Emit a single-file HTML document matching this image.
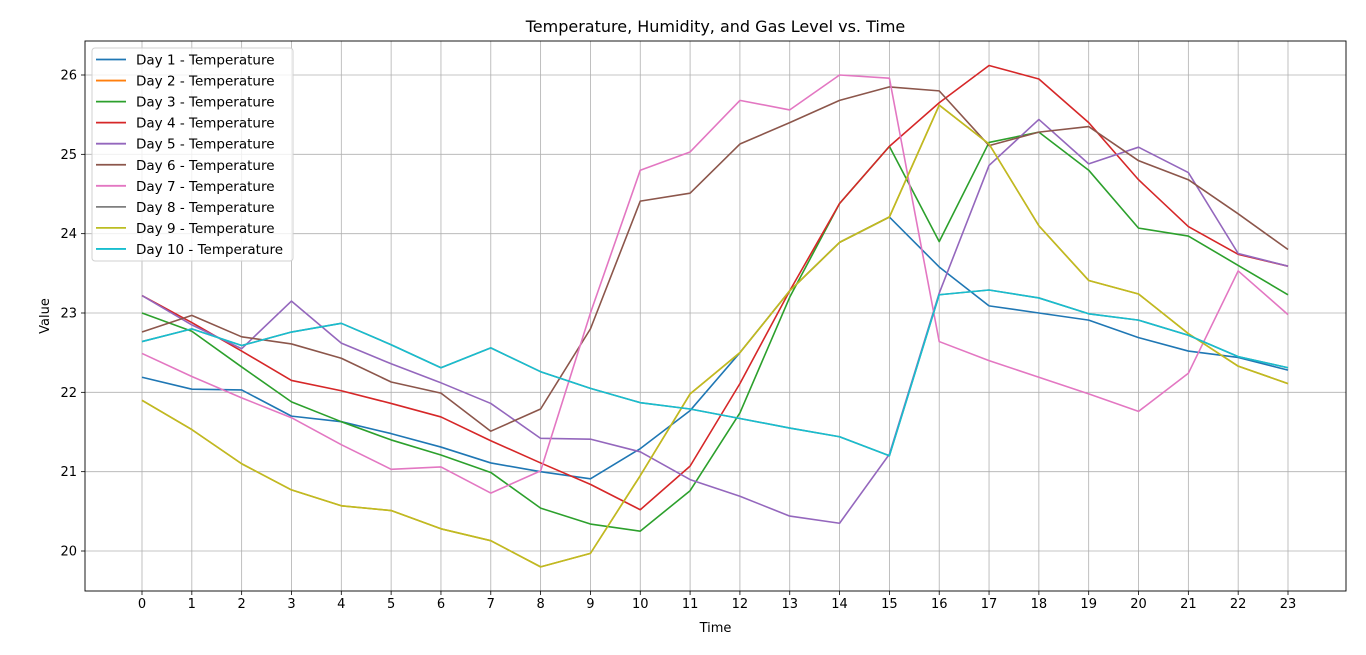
<!DOCTYPE html>
<html><head><meta charset="utf-8"><style>
html,body{margin:0;padding:0;background:#fff;}
svg{display:block;font-family:"DejaVu Sans","Liberation Sans",sans-serif;}
</style></head><body>
<svg id="chart" width="1366" height="655" viewBox="0 0 1366 655"></svg>
<script>
const hours = [0,1,2,3,4,5,6,7,8,9,10,11,12,13,14,15,16,17,18,19,20,21,22,23];
const yTicks = [20,21,22,23,24,25,26];
const seriesNames = ["Day 1 - Temperature","Day 2 - Temperature","Day 3 - Temperature","Day 4 - Temperature","Day 5 - Temperature","Day 6 - Temperature","Day 7 - Temperature","Day 8 - Temperature","Day 9 - Temperature","Day 10 - Temperature"];
const colors = ["#1f77b4","#ff7f0e","#2ca02c","#d62728","#9467bd","#8c564b","#e377c2","#7f7f7f","#bcbd22","#17becf"];
const day1 = [22.19,22.04,22.03,21.70,21.63,21.48,21.31,21.11,21.00,20.91,21.29,21.77,22.50,23.28,23.89,24.21,23.58,23.09,23.00,22.91,22.69,22.52,22.44,22.28];
const day2 = [21.90,21.53,21.10,20.77,20.57,20.51,20.28,20.13,19.80,19.97,20.95,21.98,22.50,23.28,23.89,24.21,25.62,25.13,24.10,23.41,23.24,22.74,22.33,22.11];
const day3 = [23.00,22.77,22.32,21.88,21.63,21.40,21.21,20.99,20.54,20.34,20.25,20.76,21.74,23.20,24.38,25.10,23.90,25.15,25.28,24.80,24.07,23.97,23.60,23.23];
const day4 = [23.22,22.88,22.52,22.15,22.02,21.86,21.69,21.39,21.11,20.84,20.52,21.07,22.11,23.28,24.38,25.10,25.65,26.12,25.95,25.40,24.68,24.09,23.74,23.59];
const day5 = [23.22,22.85,22.55,23.15,22.62,22.36,22.12,21.86,21.42,21.41,21.25,20.90,20.69,20.44,20.35,21.22,23.25,24.86,25.44,24.88,25.09,24.77,23.75,23.59];
const day6 = [22.76,22.97,22.70,22.61,22.43,22.13,21.99,21.51,21.79,22.80,24.41,24.51,25.13,25.40,25.68,25.85,25.80,25.11,25.28,25.35,24.92,24.68,24.25,23.80];
const day7 = [22.49,22.20,21.93,21.68,21.34,21.03,21.06,20.73,21.01,23.00,24.80,25.03,25.68,25.56,26.00,25.96,22.64,22.40,22.19,21.98,21.76,22.24,23.53,22.98];
const day8 = [22.64,22.80,22.59,22.76,22.87,22.60,22.31,22.56,22.26,22.05,21.87,21.79,21.67,21.55,21.44,21.20,23.23,23.29,23.19,22.99,22.91,22.72,22.45,22.31];
const day9 = [21.90,21.53,21.10,20.77,20.57,20.51,20.28,20.13,19.80,19.97,20.95,21.98,22.50,23.28,23.89,24.21,25.62,25.13,24.10,23.41,23.24,22.74,22.33,22.11];
const day10 = [22.64,22.80,22.59,22.76,22.87,22.60,22.31,22.56,22.26,22.05,21.87,21.79,21.67,21.55,21.44,21.20,23.23,23.29,23.19,22.99,22.91,22.72,22.45,22.31];
const allSeries = [day1,day2,day3,day4,day5,day6,day7,day8,day9,day10];

const NS="http://www.w3.org/2000/svg";
const svg=document.getElementById('chart');
const L=85,R=1346,T=41,B=591;
const xs=h=>142+(h-0)*(1288-142)/23;
const ys=v=>551-(v-20)*(551-75)/6;
function mk(tag,attrs,parent){const e=document.createElementNS(NS,tag);for(const k in attrs)e.setAttribute(k,attrs[k]);(parent||svg).appendChild(e);return e;}

const grid=mk('g',{});


hours.forEach(h=>{
  const l=mk('line',{x1:xs(h),x2:xs(h),y1:T,y2:B,stroke:'#b0b0b0','stroke-width':0.8},grid);
  
  
  const t=mk('line',{x1:xs(h),x2:xs(h),y1:B,y2:B+4,stroke:'#000','stroke-width':0.8});
  
  
  const tx=mk('text',{x:xs(h),y:B+17,'text-anchor':'middle','font-size':13,fill:'#000'});
  tx.textContent=h;
  
  
});
yTicks.forEach(v=>{
  const l=mk('line',{x1:L,x2:R,y1:ys(v),y2:ys(v),stroke:'#b0b0b0','stroke-width':0.8},grid);
  
  
  const t=mk('line',{x1:L-4,x2:L,y1:ys(v),y2:ys(v),stroke:'#000','stroke-width':0.8});
  
  
  const tx=mk('text',{x:L-8,y:ys(v)+4.5,'text-anchor':'end','font-size':13,fill:'#000'});
  tx.textContent=v;
  
  
});

allSeries.forEach((s,i)=>{
  const p=mk('polyline',{points:s.map((v,j)=>xs(hours[j])+','+ys(v)).join(' '),fill:'none',stroke:colors[i],'stroke-width':1.6,'stroke-linejoin':'round'});
  
  
});

const frame=mk('rect',{x:L,y:T,width:R-L,height:B-T,fill:'none',stroke:'#000','stroke-width':0.9});



const title=mk('text',{x:(L+R)/2,y:32,'text-anchor':'middle','font-size':16,fill:'#000'});
title.textContent='Temperature, Humidity, and Gas Level vs. Time';


const xl=mk('text',{x:(L+R)/2,y:632,'text-anchor':'middle','font-size':13,fill:'#000'});
xl.textContent='Time';


const yl=mk('text',{x:0,y:0,'text-anchor':'middle','font-size':13,fill:'#000',transform:'translate(49,316) rotate(-90)'});
yl.textContent='Value';



const lg=mk('g',{});


const lb=mk('rect',{x:92,y:48,width:201,height:213,rx:3,fill:'#fff','fill-opacity':0.8,stroke:'#d0d0d0','stroke-width':1},lg);


seriesNames.forEach((n,i)=>{
  const y=59.5+i*21.05;
  const l=mk('line',{x1:96,x2:126,y1:y,y2:y,stroke:colors[i],'stroke-width':1.8},lg);
  
  
  const t=mk('text',{x:136,y:y+5,'font-size':13.5,fill:'#000'},lg);
  t.textContent=n;
  
  
});
</script>
</body></html>
